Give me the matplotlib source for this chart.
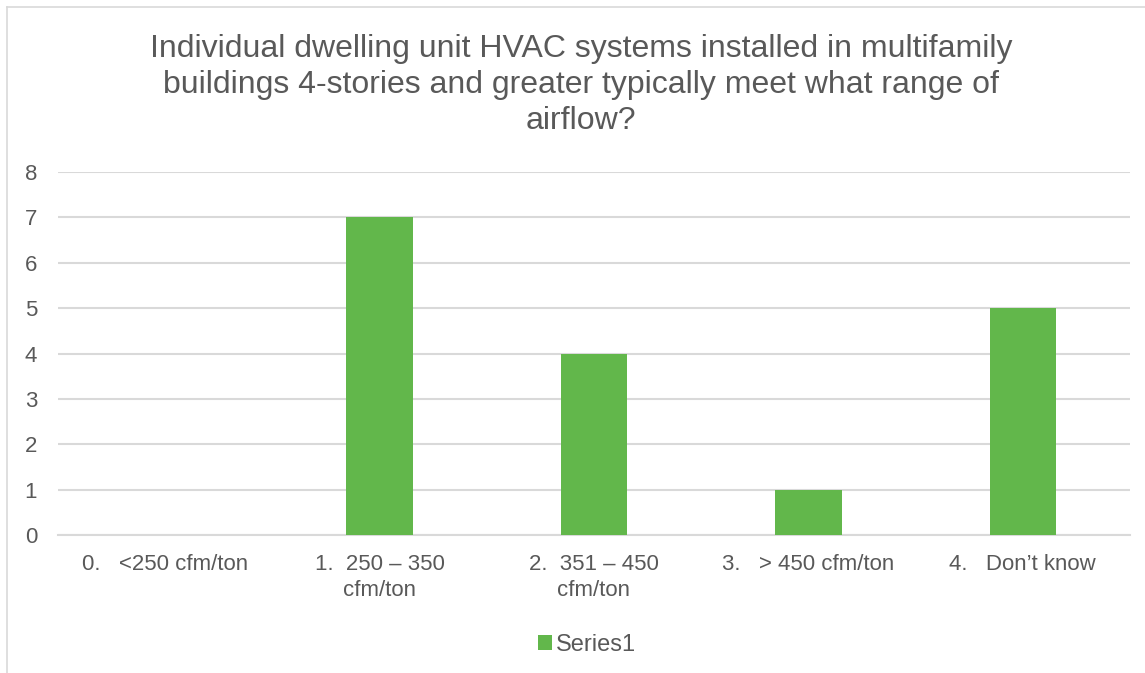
import matplotlib
matplotlib.use("Agg")
import matplotlib.pyplot as plt
from matplotlib.lines import Line2D

plt.rcParams['font.family'] = ['Liberation Sans', 'DejaVu Sans']

categories = ["0.   <250 cfm/ton", "1.  250 – 350\ncfm/ton", "2.  351 – 450\ncfm/ton",
              "3.   > 450 cfm/ton", "4.   Don’t know"]
counts = [0, 7, 4, 1, 5]
series_name = "Series1"
title = ("Individual dwelling unit HVAC systems installed in multifamily\n"
         "buildings 4-stories and greater typically meet what range of\n"
         "airflow?")

GREEN = "#62B74B"
TEXT = "#595959"
GRID = "#D9D9D9"

fig = plt.figure(figsize=(11.45, 6.73), dpi=100)
ax = fig.add_axes([58 / 1145, 1 - 535 / 673, (1130 - 58) / 1145, (535 - 172) / 673])

x = range(len(categories))
ax.bar(x, counts, width=0.31, color=GREEN, label=series_name, zorder=3)
ax.set_xlim(-0.5, len(categories) - 0.5)
ax.set_ylim(0, 8)
ax.set_yticks(range(0, 9))
ax.set_xticks(list(x))
ax.set_xticklabels(categories, multialignment="center", linespacing=1.3)
ax.tick_params(axis="both", length=0, colors=TEXT, labelsize=16)
ax.tick_params(axis="y", pad=15)
ax.tick_params(axis="x", pad=14)
ax.yaxis.grid(True, color=GRID, linewidth=1.5, zorder=0)
for s in ["top", "right", "left"]:
    ax.spines[s].set_visible(False)
ax.spines["bottom"].set_color(GRID)
ax.spines["bottom"].set_linewidth(1.5)

fig.text(581 / 1145, 1 - 85 / 673, title, ha="center", va="center",
         fontsize=23, color=TEXT, linespacing=1.25)

fig.legend(loc="center", bbox_to_anchor=(587 / 1145, 1 - 645 / 673), frameon=False,
           fontsize=17, handlelength=0.6, handleheight=0.6, handletextpad=0.15,
           labelcolor=TEXT)

# chart border (only left and top edges are visible in the crop)
fig.add_artist(Line2D([7 / 1145, 7 / 1145], [0, 1 - 7 / 673], transform=fig.transFigure,
                      color=GRID, linewidth=1.2))
fig.add_artist(Line2D([7 / 1145, 1], [1 - 7 / 673, 1 - 7 / 673], transform=fig.transFigure,
                      color=GRID, linewidth=1.2))

fig.savefig("out.png", dpi=100)
